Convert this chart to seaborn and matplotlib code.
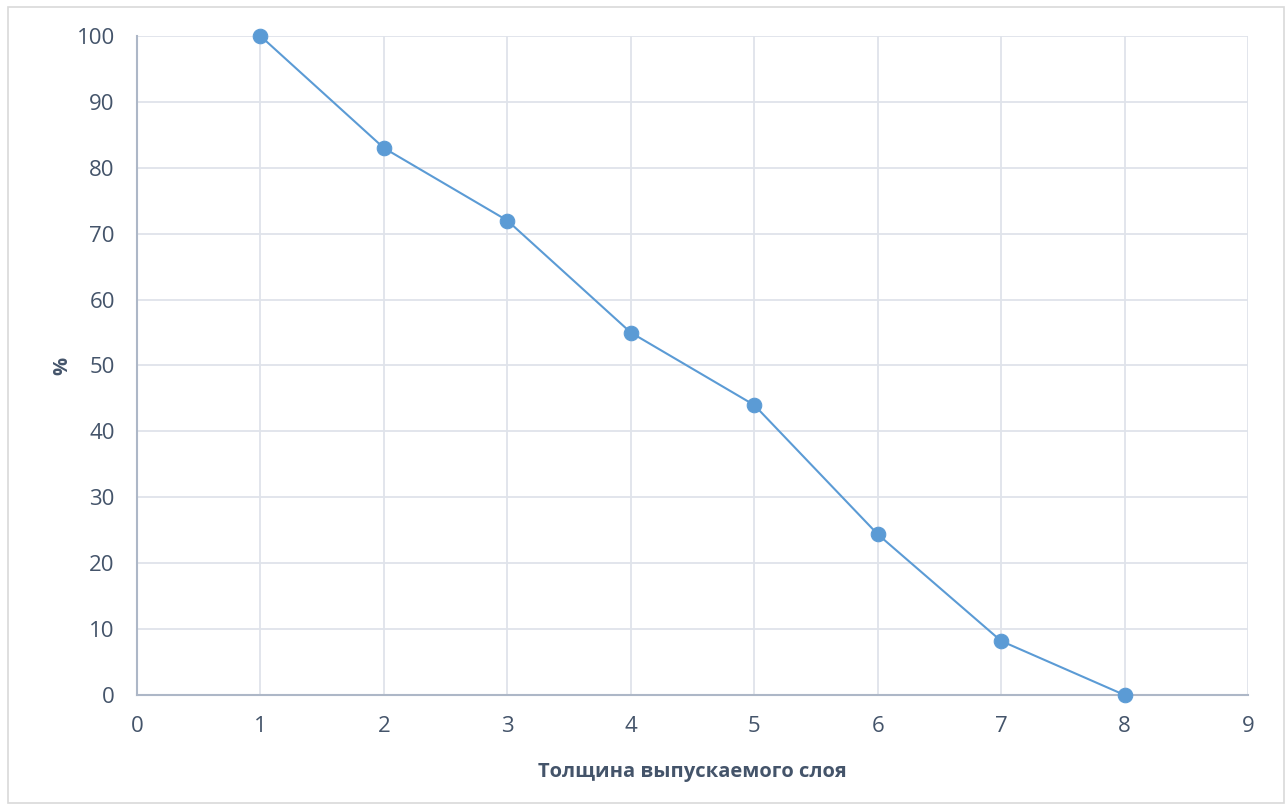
import matplotlib
matplotlib.use("Agg")
import matplotlib.pyplot as plt
import seaborn as sns
import pandas as pd
from matplotlib.patches import Rectangle

# Layer thickness and corresponding percentage
thickness = [1, 2, 3, 4, 5, 6, 7, 8]
percent = [100, 83, 72, 55, 44, 24.4, 8.2, 0]
x_ticks = list(range(0, 10))
y_ticks = list(range(0, 101, 10))

df = pd.DataFrame({"thickness": thickness, "percent": percent})

sns.set_theme(style="white")
plt.rcParams["font.family"] = ["Open Sans", "DejaVu Sans"]

text_color = "#44546A"
grid_color = "#DFE3EA"
spine_color = "#ADB7C7"
line_color = "#5B9BD5"

fig = plt.figure(figsize=(12.88, 8.07), dpi=100)
ax = fig.add_axes([137 / 1288, 1 - 695 / 807, (1248 - 137) / 1288, (695 - 36) / 807])

# chart frame
fig.patches.append(Rectangle((8 / 1288, 1 - 803 / 807), 1276 / 1288, 796 / 807,
                             transform=fig.transFigure, fill=False,
                             edgecolor="#D9D9D9", linewidth=1.2))

sns.lineplot(data=df, x="thickness", y="percent", ax=ax, color=line_color,
             linewidth=1.5, marker="o", markersize=10.5, markeredgecolor=line_color,
             markerfacecolor=line_color, zorder=3, clip_on=False)

ax.set_xlim(0, 9)
ax.set_ylim(0, 100)
ax.set_xticks(x_ticks)
ax.set_yticks(y_ticks)
ax.grid(True, color=grid_color, linewidth=1.3)
ax.set_axisbelow(True)

for side in ["top", "right"]:
    ax.spines[side].set_visible(False)
for side in ["left", "bottom"]:
    ax.spines[side].set_color(spine_color)
    ax.spines[side].set_linewidth(1.5)

ax.tick_params(axis="both", length=0, labelsize=16, labelcolor=text_color)
ax.tick_params(axis="x", pad=15)
ax.tick_params(axis="y", pad=16)

ax.set_xlabel("Толщина выпускаемого слоя", fontsize=14.5, fontweight="bold",
              color=text_color, labelpad=18)
ax.set_ylabel("%", fontsize=14.5, fontweight="bold", color=text_color, labelpad=3)

fig.savefig("out.png", dpi=100, facecolor="white")
